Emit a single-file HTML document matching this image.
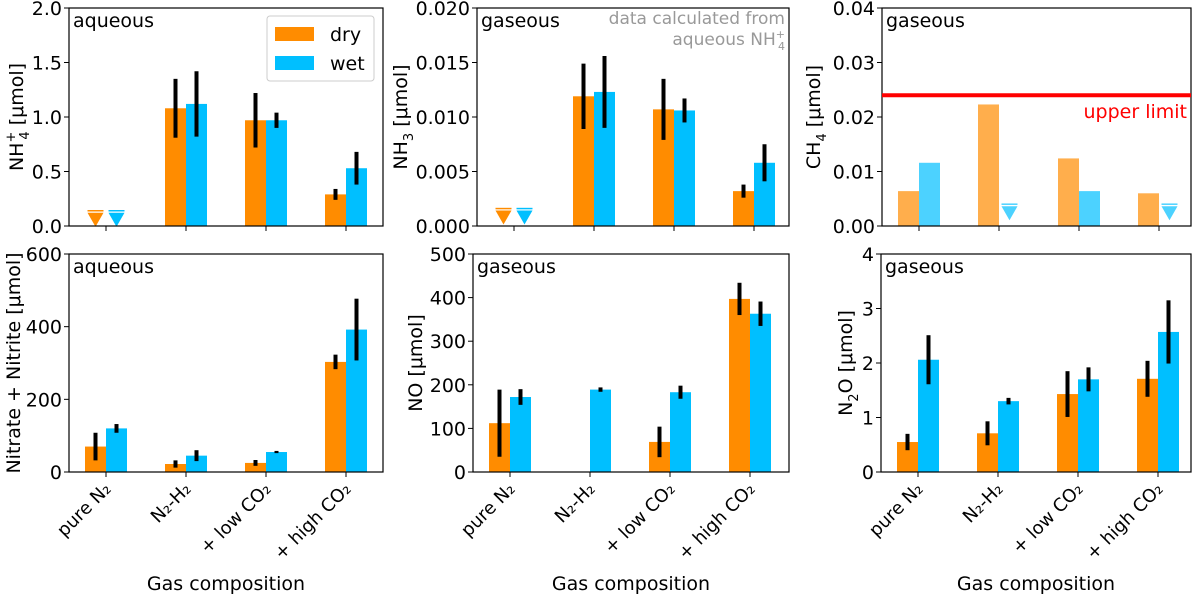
<!DOCTYPE html>
<html><head><meta charset="utf-8">
<style>
body{margin:0;background:#fff;}
svg{display:block;font-family:"DejaVu Sans","Liberation Sans",sans-serif;}
</style></head>
<body>
<svg id="chart" width="1200" height="596" viewBox="0 0 1200 596"></svg>
<script>
const categories = ["pure N\u2082","N\u2082-H\u2082","+ low CO\u2082","+ high CO\u2082"];
// NH4+ aqueous
const nh4Dry = [null, 1.08, 0.97, 0.29];
const nh4DryErr = [0, 0.27, 0.25, 0.05];
const nh4Wet = [null, 1.12, 0.97, 0.53];
const nh4WetErr = [0, 0.30, 0.07, 0.15];
const nh4DryLimit = [0.14, null, null, null];
const nh4WetLimit = [0.14, null, null, null];
// NH3 gaseous
const nh3Dry = [null, 0.0119, 0.0107, 0.0032];
const nh3DryErr = [0, 0.0030, 0.0028, 0.0006];
const nh3Wet = [null, 0.0123, 0.0106, 0.0058];
const nh3WetErr = [0, 0.0033, 0.0011, 0.0017];
const nh3DryLimit = [0.0016, null, null, null];
const nh3WetLimit = [0.0016, null, null, null];
// CH4 gaseous
const ch4Dry = [0.0064, 0.0223, 0.0124, 0.0060];
const ch4Wet = [0.0116, null, 0.0064, null];
const ch4WetLimit = [null, 0.0040, null, 0.0040];
const ch4UpperLimit = 0.024;
// Nitrate + nitrite
const nitDry = [70, 22, 25, 303];
const nitDryErr = [38, 10, 8, 20];
const nitWet = [120, 45, 55, 392];
const nitWetErr = [12, 15, 3, 85];
// NO
const noDry = [112, 0, 69, 397];
const noDryErr = [77, 0, 35, 37];
const noWet = [172, 189, 183, 363];
const noWetErr = [18, 5, 15, 28];
// N2O
const n2oDry = [0.55, 0.71, 1.43, 1.71];
const n2oDryErr = [0.15, 0.22, 0.42, 0.33];
const n2oWet = [2.06, 1.30, 1.70, 2.57];
const n2oWetErr = [0.45, 0.06, 0.22, 0.58];

const ticks1 = ["0.0","0.5","1.0","1.5","2.0"];
const ticks2 = ["0.000","0.005","0.010","0.015","0.020"];
const ticks3 = ["0.00","0.01","0.02","0.03","0.04"];
const ticks4 = ["0","200","400","600"];
const ticks5 = ["0","100","200","300","400","500"];
const ticks6 = ["0","1","2","3","4"];

const NS="http://www.w3.org/2000/svg";
const svg=document.getElementById('chart');
function mk(tag,attrs,parent){const e=document.createElementNS(NS,tag);for(const k in attrs)e.setAttribute(k,attrs[k]);(parent||svg).appendChild(e);return e;}
const DRY="#ff8c00", WET="#00bfff";
const FS=19;

function panel(o){
  const g=mk('g',{});
  
  
  const ymax=parseFloat(o.ticks[o.ticks.length-1]);
  const y=v=>o.B-(v/ymax)*(o.B-o.T);
  const x=i=>o.L+37+80*i;
  const bw=21;
  function bars(vals,errs,off,col,op,nm){
    vals.forEach((v,i)=>{
      if(v===null||v===undefined)return;
      const r=mk('rect',{x:x(i)+off,y:y(v),width:bw,height:Math.max(0,o.B-y(v)),fill:col,'fill-opacity':op},g);
      
      
      if(errs&&errs[i]>0){
        const cx=x(i)+off+bw/2;
        const l=mk('line',{x1:cx,x2:cx,y1:y(v-errs[i]),y2:y(v+errs[i]),stroke:'#000','stroke-width':4},g);
        
        
      }
    });
  }
  function limits(vals,off,col,op,nm){
    vals.forEach((v,i)=>{
      if(v===null)return;
      const cx=x(i)+off+bw/2, yy=y(v);
      const p=mk('path',{d:`M${cx-8} ${yy+2} L${cx+8} ${yy+2} L${cx} ${yy+16} Z`,fill:col,'fill-opacity':op},g);
      
      
      mk('line',{x1:cx-8,x2:cx+8,y1:yy,y2:yy,stroke:col,'stroke-width':1.5,'stroke-opacity':op},g);
    });
  }
  bars(o.dry,o.dryErr,-bw,DRY,o.op||1,'dry');
  bars(o.wet,o.wetErr,0,WET,o.op||1,'wet');
  if(o.dryLim)limits(o.dryLim,-bw,DRY,o.op||1,'dry');
  if(o.wetLim)limits(o.wetLim,0,WET,o.op||1,'wet');
  const f=mk('rect',{x:o.L,y:o.T,width:o.R-o.L,height:o.B-o.T,fill:'none',stroke:'#000','stroke-width':1.2},g);
  
  
  o.ticks.forEach(t=>{
    const yy=y(parseFloat(t));
    mk('line',{x1:o.L-5,x2:o.L,y1:yy,y2:yy,stroke:'#000','stroke-width':1},g);
    const tx=mk('text',{x:o.L-7,y:yy+7,'text-anchor':'end','font-size':FS},g);
    tx.textContent=t;
    
    
  });
  categories.forEach((c,i)=>{
    mk('line',{x1:x(i),x2:x(i),y1:o.B,y2:o.B+5,stroke:'#000','stroke-width':1},g);
    if(o.xlabels){
      const tx=mk('text',{x:x(i)+6,y:o.B+18,'text-anchor':'end','font-size':18,transform:`rotate(-45 ${x(i)+6} ${o.B+18})`},g);
      tx.textContent=c;
      
      
    }
  });
  if(o.xlabels){
    const tx=mk('text',{x:(o.L+o.R)/2,y:590,'text-anchor':'middle','font-size':FS},g);
    tx.textContent='Gas composition';
    
    
  }
  const st=mk('text',{x:o.L+4,y:o.T+19,'font-size':FS},g);
  st.textContent=o.state;
  
  
  const yl=mk('text',{x:o.yx,y:(o.T+o.B)/2,'text-anchor':'middle','font-size':FS,transform:`rotate(-90 ${o.yx} ${(o.T+o.B)/2})`},g);
  yl.innerHTML=o.ylabel;
  
  
  return {g,y,x};
}

panel({name:'nh4-panel',L:69,R:383,T:8,B:226,ticks:ticks1,dry:nh4Dry,dryErr:nh4DryErr,wet:nh4Wet,wetErr:nh4WetErr,dryLim:nh4DryLimit,wetLim:nh4WetLimit,state:'aqueous',yx:23,ylabel:'NH<tspan font-size="13" dy="-8">+</tspan><tspan font-size="13" dx="-8" dy="14">4</tspan><tspan dy="-6"> [μmol]</tspan>'});
panel({name:'nh3-panel',L:477,R:789,T:8,B:226,ticks:ticks2,dry:nh3Dry,dryErr:nh3DryErr,wet:nh3Wet,wetErr:nh3WetErr,dryLim:nh3DryLimit,wetLim:nh3WetLimit,state:'gaseous',yx:407,ylabel:'NH<tspan font-size="13" dy="6">3</tspan><tspan dy="-6"> [μmol]</tspan>'});
const p3=panel({name:'ch4-panel',L:882,R:1191,T:8,B:226,ticks:ticks3,dry:ch4Dry,wet:ch4Wet,wetLim:ch4WetLimit,op:0.7,state:'gaseous',yx:820,ylabel:'CH<tspan font-size="13" dy="6">4</tspan><tspan dy="-6"> [μmol]</tspan>'});
panel({name:'nitrate-panel',L:69,R:383,T:254,B:472,ticks:ticks4,dry:nitDry,dryErr:nitDryErr,wet:nitWet,wetErr:nitWetErr,state:'aqueous',xlabels:true,yx:20,ylabel:'Nitrate + Nitrite [μmol]'});
panel({name:'no-panel',L:473,R:789,T:254,B:472,ticks:ticks5,dry:noDry,dryErr:noDryErr,wet:noWet,wetErr:noWetErr,state:'gaseous',xlabels:true,yx:422,ylabel:'NO [μmol]'});
panel({name:'n2o-panel',L:881,R:1191,T:254,B:472,ticks:ticks6,dry:n2oDry,dryErr:n2oDryErr,wet:n2oWet,wetErr:n2oWetErr,state:'gaseous',xlabels:true,yx:852,ylabel:'N<tspan font-size="13" dy="6">2</tspan><tspan dy="-6">O [μmol]</tspan>'});

const ul=mk('line',{x1:882,x2:1191,y1:p3.y(ch4UpperLimit),y2:p3.y(ch4UpperLimit),stroke:'#ff0000','stroke-width':4});


const ult=mk('text',{x:1187,y:p3.y(ch4UpperLimit)+23,'text-anchor':'end','font-size':FS,fill:'#ff0000'});
ult.textContent='upper limit';



const n1=mk('text',{x:785,y:24,'text-anchor':'end','font-size':17,fill:'#999'});
n1.textContent='data calculated from';


const n2=mk('text',{x:785,y:45,'text-anchor':'end','font-size':17,fill:'#999'});
n2.innerHTML='aqueous NH<tspan font-size="11" dy="-7">+</tspan><tspan font-size="11" dx="-7" dy="12">4</tspan>';



const lg=mk('g',{});


mk('rect',{x:267,y:16,width:107,height:65,fill:'#fff',stroke:'#ccc','stroke-width':1,rx:3},lg);
const ld=mk('rect',{x:275,y:27,width:39,height:14,fill:DRY},lg);


const lw=mk('rect',{x:275,y:56,width:39,height:14,fill:WET},lg);


const t1=mk('text',{x:330,y:41,'font-size':FS},lg);t1.textContent='dry';


const t2=mk('text',{x:330,y:70,'font-size':FS},lg);t2.textContent='wet';


</script>
</body></html>
